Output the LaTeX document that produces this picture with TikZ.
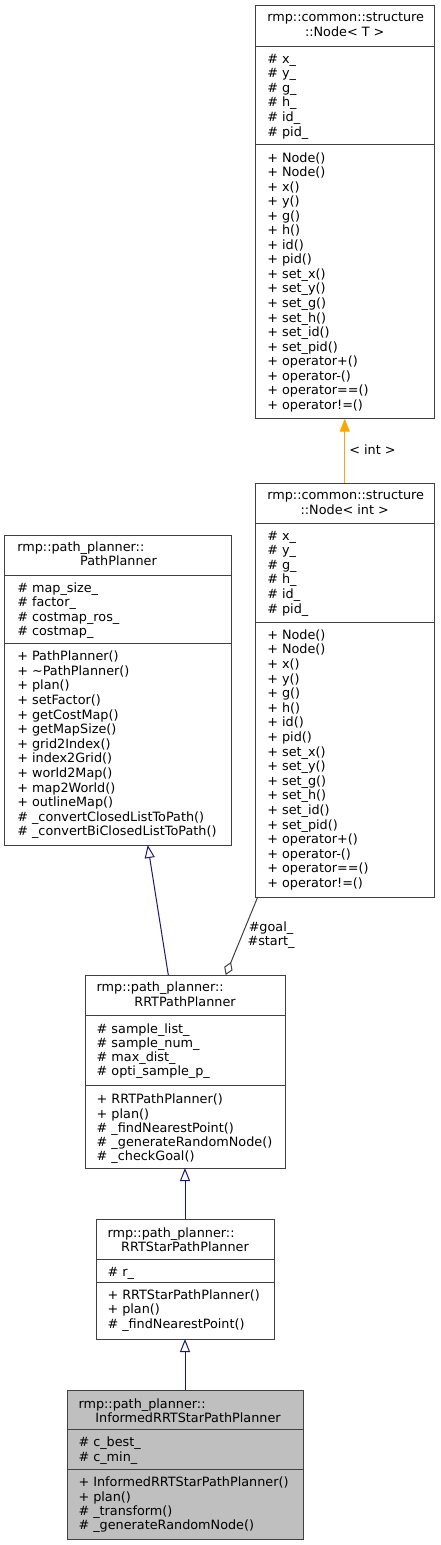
\documentclass[tikz,border=0pt]{standalone}
\usepackage{fontspec}
\setmainfont{DejaVu Sans}
\usetikzlibrary{arrows.meta}
\definecolor{boxc}{HTML}{404040}
\definecolor{inhc}{HTML}{191970}
\definecolor{tmpc}{HTML}{FFA500}
\definecolor{aggc}{HTML}{404040}
\definecolor{hlc}{HTML}{BFBFBF}
\newcommand\umllines[2]{\fontsize{12.8}{#1}\selectfont\begin{tabular}[t]{@{}l@{}}#2\end{tabular}}
\begin{document}
\begin{tikzpicture}[x=1pt,y=-1pt,
  box/.style={draw=boxc, line width=1pt, fill=white, inner sep=0, outer sep=0, anchor=north west},
  hbox/.style={box, fill=hlc},
  sepline/.style={draw=boxc, line width=1pt},
  txt/.style={inner sep=0, outer sep=0, anchor=base west, font=\fontsize{12.8}{14.7}\selectfont},
  ctxt/.style={txt, anchor=base},
  inh/.style={draw=inhc, line width=1pt, -{Triangle[open, length=13pt, width=10pt]}},
  tmpl/.style={draw=tmpc, line width=1pt, -{Triangle[length=13pt, width=10pt, fill=tmpc]}},
  agg/.style={draw=aggc, line width=1pt, -{Diamond[open, length=14pt, width=9pt]}},
]
\useasboundingbox (0,0) rectangle (440,1545);

% Node< T >
\node[box, minimum width=178.5pt, minimum height=413pt] (nT) at (255.5,5.7) {};
\draw[sepline] (255.5,46) -- (434,46);
\draw[sepline] (255.5,144.7) -- (434,144.7);
\node[txt] (nTt1) at (267.3,21.5) {rmp::common::structure};
\node[ctxt] (nTt2) at (344.75,36.2) {::Node< T >};
\node[txt] (nTa) at (267.3,63.3) {\umllines{14.55}{\# x\_\\\# y\_\\\# g\_\\\# h\_\\\# id\_\\\# pid\_}};
\node[txt] (nTm) at (267.3,162) {\umllines{14.55}{+ Node()\\+ Node()\\+ x()\\+ y()\\+ g()\\+ h()\\+ id()\\+ pid()\\+ set\_x()\\+ set\_y()\\+ set\_g()\\+ set\_h()\\+ set\_id()\\+ set\_pid()\\+ operator+()\\+ operator-()\\+ operator==()\\+ operator!=()}};

% Node< int >
\node[box, minimum width=178.5pt, minimum height=414pt] (nI) at (255.5,483) {};
\draw[sepline] (255.5,523) -- (434,523);
\draw[sepline] (255.5,622) -- (434,622);
\node[txt] (nIt1) at (267.3,499.5) {rmp::common::structure};
\node[ctxt] (nIt2) at (344.75,514) {::Node< int >};
\node[txt] (nIa) at (267.3,540.3) {\umllines{14.55}{\# x\_\\\# y\_\\\# g\_\\\# h\_\\\# id\_\\\# pid\_}};
\node[txt] (nIm) at (267.3,639.3) {\umllines{14.6}{+ Node()\\+ Node()\\+ x()\\+ y()\\+ g()\\+ h()\\+ id()\\+ pid()\\+ set\_x()\\+ set\_y()\\+ set\_g()\\+ set\_h()\\+ set\_id()\\+ set\_pid()\\+ operator+()\\+ operator-()\\+ operator==()\\+ operator!=()}};

% PathPlanner
\node[box, minimum width=226.5pt, minimum height=310pt] (pp) at (4.5,535) {};
\draw[sepline] (4.5,575) -- (231,575);
\draw[sepline] (4.5,643.5) -- (231,643.5);
\node[txt] (ppt1) at (17.3,551) {rmp::path\_planner::};
\node[ctxt] (ppt2) at (118.5,565) {PathPlanner};
\node[txt] (ppa) at (17.3,592.5) {\umllines{14.3}{\# map\_size\_\\\# factor\_\\\# costmap\_ros\_\\\# costmap\_}};
\node[txt] (ppm) at (17.3,660.6) {\umllines{14.6}{+ PathPlanner()\\+ \textasciitilde PathPlanner()\\+ plan()\\+ setFactor()\\+ getCostMap()\\+ getMapSize()\\+ grid2Index()\\+ index2Grid()\\+ world2Map()\\+ map2World()\\+ outlineMap()\\\# \_convertClosedListToPath()\\\# \_convertBiClosedListToPath()}};

% RRTPathPlanner
\node[box, minimum width=200pt, minimum height=193pt] (rrt) at (85,975) {};
\draw[sepline] (85,1015) -- (285,1015);
\draw[sepline] (85,1085.5) -- (285,1085.5);
\node[txt] (rrtt1) at (96.7,991) {rmp::path\_planner::};
\node[ctxt] (rrtt2) at (185,1006) {RRTPathPlanner};
\node[txt] (rrta) at (96.7,1033) {\umllines{14.3}{\# sample\_list\_\\\# sample\_num\_\\\# max\_dist\_\\\# opti\_sample\_p\_}};
\node[txt] (rrtm) at (96.7,1103.8) {\umllines{14.25}{+ RRTPathPlanner()\\+ plan()\\\# \_findNearestPoint()\\\# \_generateRandomNode()\\\# \_checkGoal()}};

% RRTStarPathPlanner
\node[box, minimum width=178pt, minimum height=120pt] (rrts) at (96,1219) {};
\draw[sepline] (96,1259) -- (274,1259);
\draw[sepline] (96,1282) -- (274,1282);
\node[txt] (rrtst1) at (107.5,1237.8) {rmp::path\_planner::};
\node[ctxt] (rrtst2) at (185,1251) {RRTStarPathPlanner};
\node[txt] (rrtsa) at (107.5,1276.3) {\umllines{14.4}{\# r\_}};
\node[txt] (rrtsm) at (107.5,1299.5) {\umllines{14.4}{+ RRTStarPathPlanner()\\+ plan()\\\# \_findNearestPoint()}};

% InformedRRTStarPathPlanner
\node[hbox, minimum width=236pt, minimum height=149pt] (inf) at (67,1390) {};
\draw[sepline] (67,1429.5) -- (303,1429.5);
\draw[sepline] (67,1469.5) -- (303,1469.5);
\node[txt] (inft1) at (78.5,1408.5) {rmp::path\_planner::};
\node[ctxt] (inft2) at (188,1422) {InformedRRTStarPathPlanner};
\node[txt] (infa) at (78.5,1446.6) {\umllines{14.6}{\# c\_best\_\\\# c\_min\_}};
\node[txt] (infm) at (78.5,1486.7) {\umllines{14.4}{+ InformedRRTStarPathPlanner()\\+ plan()\\\# \_transform()\\\# \_generateRandomNode()}};

% connectors
\draw[tmpl] (nI.north) -- (nT.south);
\node[inner sep=0, font=\fontsize{12.8}{14.7}\selectfont] (tl) at (372.5,450) {< int >};
\draw[inh] ([xshift=83.3pt]rrt.north west) -- ([xshift=143.2pt]pp.south west);
\draw[inh] (rrts.north) -- (rrt.south);
\draw[inh] (inf.north) -- (rrts.south);
\draw[agg] ([xshift=2.2pt]nI.south west) -- ([xshift=-59.3pt]rrt.north east);
\node[inner sep=0, align=center, font=\fontsize{12.8}{14}\selectfont] (aggl) at (271,935) {\#goal\_\\\#start\_};
\end{tikzpicture}
\end{document}
